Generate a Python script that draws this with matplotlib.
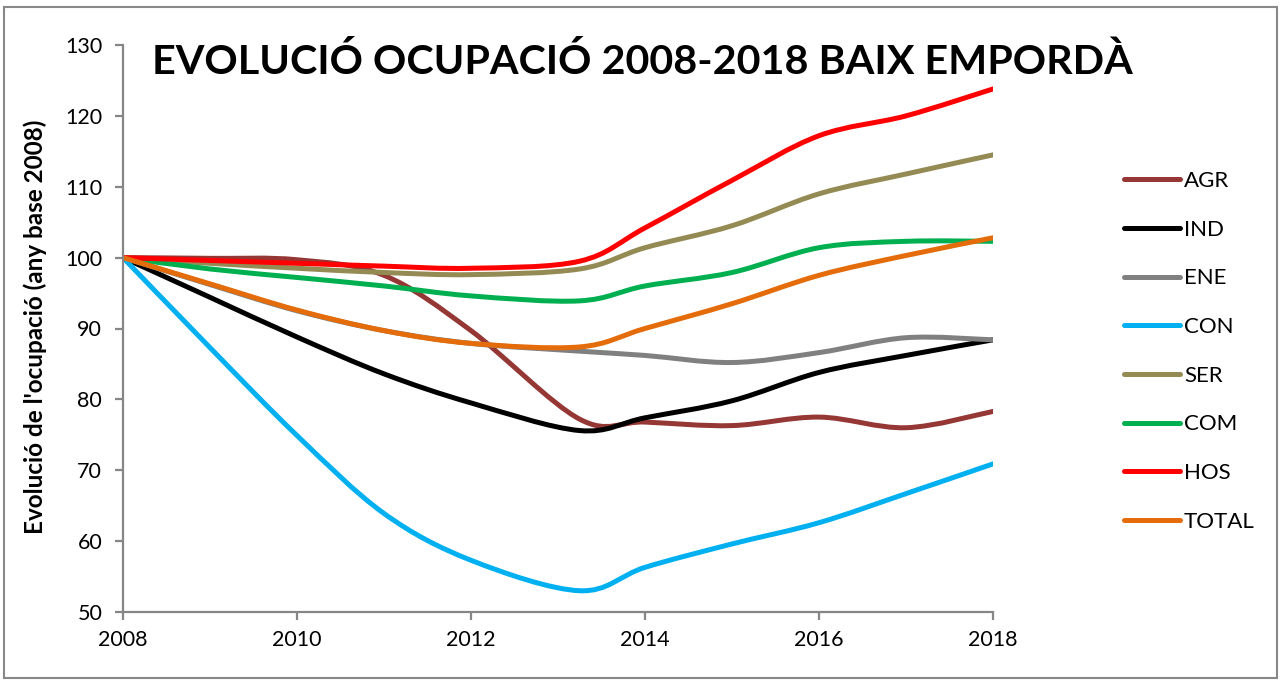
import matplotlib
matplotlib.use("Agg")
import matplotlib.pyplot as plt
from matplotlib.path import Path
from matplotlib.patches import PathPatch, Rectangle
from matplotlib.lines import Line2D

plt.rcParams['font.family'] = ['Lato', 'DejaVu Sans']

years = [2008, 2009, 2010, 2011, 2012, 2013.25, 2014, 2015, 2016, 2017, 2018]

AGR = [100, 99.9, 99.7, 97.5, 89.7, 77.2, 76.8, 76.3, 77.5, 76.0, 78.3]
IND = [100, 94.4, 88.8, 83.6, 79.5, 75.6, 77.4, 79.8, 83.8, 86.2, 88.4]
ENE = [100, 96.2, 92.5, 89.7, 87.9, 86.8, 86.2, 85.2, 86.6, 88.7, 88.4]
CON = [100, 87.3, 74.9, 63.9, 57.3, 53.0, 56.3, 59.6, 62.6, 66.7, 70.9]
SER = [100, 99.2, 98.5, 97.9, 97.6, 98.4, 101.4, 104.5, 109.0, 111.8, 114.5]
COM = [100, 98.4, 97.2, 96.0, 94.6, 93.9, 96.0, 97.9, 101.4, 102.3, 102.3]
HOS = [100, 99.6, 99.2, 98.8, 98.5, 99.5, 104.2, 110.9, 117.2, 120.0, 123.8]
TOTAL = [100, 96.3, 92.6, 89.7, 87.9, 87.4, 90.0, 93.5, 97.5, 100.3, 102.8]

labels = ["AGR", "IND", "ENE", "CON", "SER", "COM", "HOS", "TOTAL"]
series = [AGR, IND, ENE, CON, SER, COM, HOS, TOTAL]
colors = ["#953735", "#000000", "#808080", "#00B0F0", "#948A54", "#00B050", "#FF0000", "#E46C0A"]

title = "EVOLUCIÓ OCUPACIÓ 2008-2018 BAIX EMPORDÀ"
ylabel = "Evolució de l'ocupació (any base 2008)"
xticks = [2008, 2010, 2012, 2014, 2016, 2018]
yticks = [50, 60, 70, 80, 90, 100, 110, 120, 130]


def smooth_path(xs, ys):
    # Excel-like smoothed line: cubic Bezier segments through the data points
    n = len(xs)
    verts = [(xs[0], ys[0])]
    codes = [Path.MOVETO]
    for i in range(n - 1):
        x0, y0 = xs[max(i - 1, 0)], ys[max(i - 1, 0)]
        x1, y1 = xs[i], ys[i]
        x2, y2 = xs[i + 1], ys[i + 1]
        x3, y3 = xs[min(i + 2, n - 1)], ys[min(i + 2, n - 1)]
        c1 = (x1 + (x2 - x0) / 6.0, y1 + (y2 - y0) / 6.0)
        c2 = (x2 - (x3 - x1) / 6.0, y2 - (y3 - y1) / 6.0)
        verts += [c1, c2, (x2, y2)]
        codes += [Path.CURVE4] * 3
    return Path(verts, codes)


W, H = 1284, 685
fig = plt.figure(figsize=(W / 100, H / 100), dpi=100)
ax = fig.add_axes([123 / W, 1 - 612 / H, (993 - 123) / W, (612 - 45) / H])

lw = 3.6
for lab, s, c in zip(labels, series, colors):
    p = PathPatch(smooth_path(years, s), facecolor="none", edgecolor=c,
                  linewidth=lw, capstyle="round", joinstyle="round")
    ax.add_patch(p)

ax.set_xlim(2008, 2018)
ax.set_ylim(50, 130)
ax.set_xticks(xticks)
ax.set_yticks(yticks)
ax.set_xticklabels([str(t) for t in xticks])
ax.set_yticklabels([str(t) for t in yticks])
for sp in ["top", "right"]:
    ax.spines[sp].set_visible(False)
for sp in ["left", "bottom"]:
    ax.spines[sp].set_color("#868686")
    ax.spines[sp].set_linewidth(1.6)
ax.tick_params(axis="both", which="major", direction="out", length=6, width=1.6,
               color="#868686", labelsize=15.5, labelcolor="#000000")
ax.tick_params(axis="y", pad=9)
ax.tick_params(axis="x", pad=7)

fig.text(642 / W, 1 - 62 / H, title, ha="center", va="center", fontsize=29.7,
         fontweight="bold", color="#000000")
fig.text(35 / W, 1 - 327 / H, ylabel, ha="center", va="center", rotation=90,
         fontsize=17.5, fontweight="bold", color="#000000")

handles = [Line2D([0], [0], color=c, lw=lw, solid_capstyle="round") for c in colors]
fig.legend(handles, labels, loc="upper left", bbox_to_anchor=(1124 / W, 1 - 171 / H),
           frameon=False, fontsize=16, handlelength=2.5, handletextpad=0.2,
           labelspacing=1.29, borderaxespad=0, borderpad=0)

fig.add_artist(Rectangle((4 / W, 7 / H), (1277 - 4) / W, (678 - 7) / H,
                         transform=fig.transFigure, fill=False,
                         edgecolor="#888888", linewidth=1.5))

fig.savefig("out.png", dpi=100)
